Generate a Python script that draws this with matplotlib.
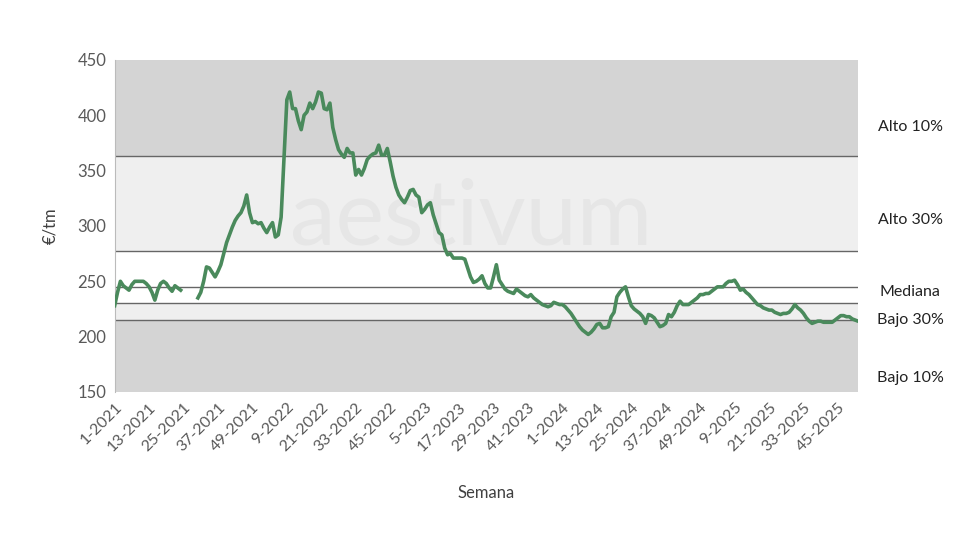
import matplotlib
matplotlib.use("Agg")
import matplotlib.pyplot as plt
import numpy as np

values = [228,240,250,246,244,242,247,250,250,250,250,248,245,240,233,242,248,250,248,244,241,246,244,242,
 None,None,None,None,None,
 235,240,250,263,262,258,254,259,265,275,285,292,299,305,309,312,318,328,312,303,304,302,303,298,294,299,303,290,292,308,360,
 414,421,406,406,395,387,400,403,411,406,412,421,420,406,405,411,389,378,369,365,362,370,366,366,346,351,346,352,360,363,
 365,366,373,364,364,370,358,345,335,328,324,321,326,332,333,328,326,312,315,319,321,310,302,294,292,280,274,275,271,271,
 271,271,270,262,254,249,250,252,255,248,244,244,254,265,251,247,243,241,240,239,243,241,239,237,236,238,235,233,231,229,
 228,227,228,231,230,229,229,227,224,221,217,213,209,206,204,202,204,207,211,212,208,208,209,218,222,236,240,243,245,236,
 228,225,223,221,218,212,220,219,217,213,209,210,212,220,218,222,228,232,229,229,229,231,233,235,238,238,239,239,241,243,
 245,245,245,248,250,250,251,247,242,243,240,238,235,232,229,228,226,225,224,224,222,221,220,221,221,222,225,229,226,224,
 221,217,214,212,213,214,214,213,213,213,213,215,217,219,219,218,218,216,215,214]
tick_labels = ["1-2021","13-2021","25-2021","37-2021","49-2021","9-2022","21-2022","33-2022","45-2022",
 "5-2023","17-2023","29-2023","41-2023","1-2024","13-2024","25-2024","37-2024","49-2024","9-2025",
 "21-2025","33-2025","45-2025"]
band_levels = [150, 215, 230, 277, 363, 450]
band_colors = ["#d4d4d4", "#efefef", "#ffffff", "#efefef", "#d4d4d4"]
line_levels = [215, 230, 245, 277, 363]
band_names = ["Alto 10%", "Alto 30%", "Mediana", "Bajo 30%", "Bajo 10%"]
band_label_y = [389, 305, 240, 215, 163]

plt.rcParams['font.family'] = ['Lato', 'DejaVu Sans']
fig = plt.figure(figsize=(9.8, 5.6), dpi=100)
ax = fig.add_axes([0.117, 0.3, 0.7585, 0.593])
y = np.array([np.nan if v is None else v for v in values], dtype=float)
x = np.arange(len(y))
n = len(y) - 1
for lo, hi, c in zip(band_levels[:-1], band_levels[1:], band_colors):
    ax.axhspan(lo, hi, color=c, zorder=0, lw=0)
for lv in line_levels:
    ax.axhline(lv, color="#666666", lw=1, zorder=1)
ax.text(0.48, 0.52, "aestivum", transform=ax.transAxes, fontsize=66, color="#e6e6e6",
        ha="center", va="center", zorder=1)
ax.plot(x, y, color="#4a8a5c", lw=2.6, zorder=3)
ax.set_xlim(0, n)
ax.set_ylim(150, 450)
ax.set_yticks(range(150, 451, 50))
ax.set_xticks(range(0, 253, 12))
ax.set_xticklabels(tick_labels, rotation=45, ha="right", rotation_mode="anchor")
ax.tick_params(length=0, labelsize=12, colors="#595959", pad=6)
ax.tick_params(axis='x', labelsize=11.5)
for s in ["top", "right", "bottom"]:
    ax.spines[s].set_visible(False)
ax.spines["left"].set_color("#bbbbbb")
ax.set_ylabel("€/tm", fontsize=12, color="#404040", labelpad=14)
ax.set_xlabel("Semana", fontsize=12, color="#404040", labelpad=22)
for name, ly in zip(band_names, band_label_y):
    ax.text(1.07, ly, name, transform=ax.get_yaxis_transform(), ha="center", va="center",
            fontsize=11.5, color="#222222")
fig.savefig("out.png", dpi=100)
